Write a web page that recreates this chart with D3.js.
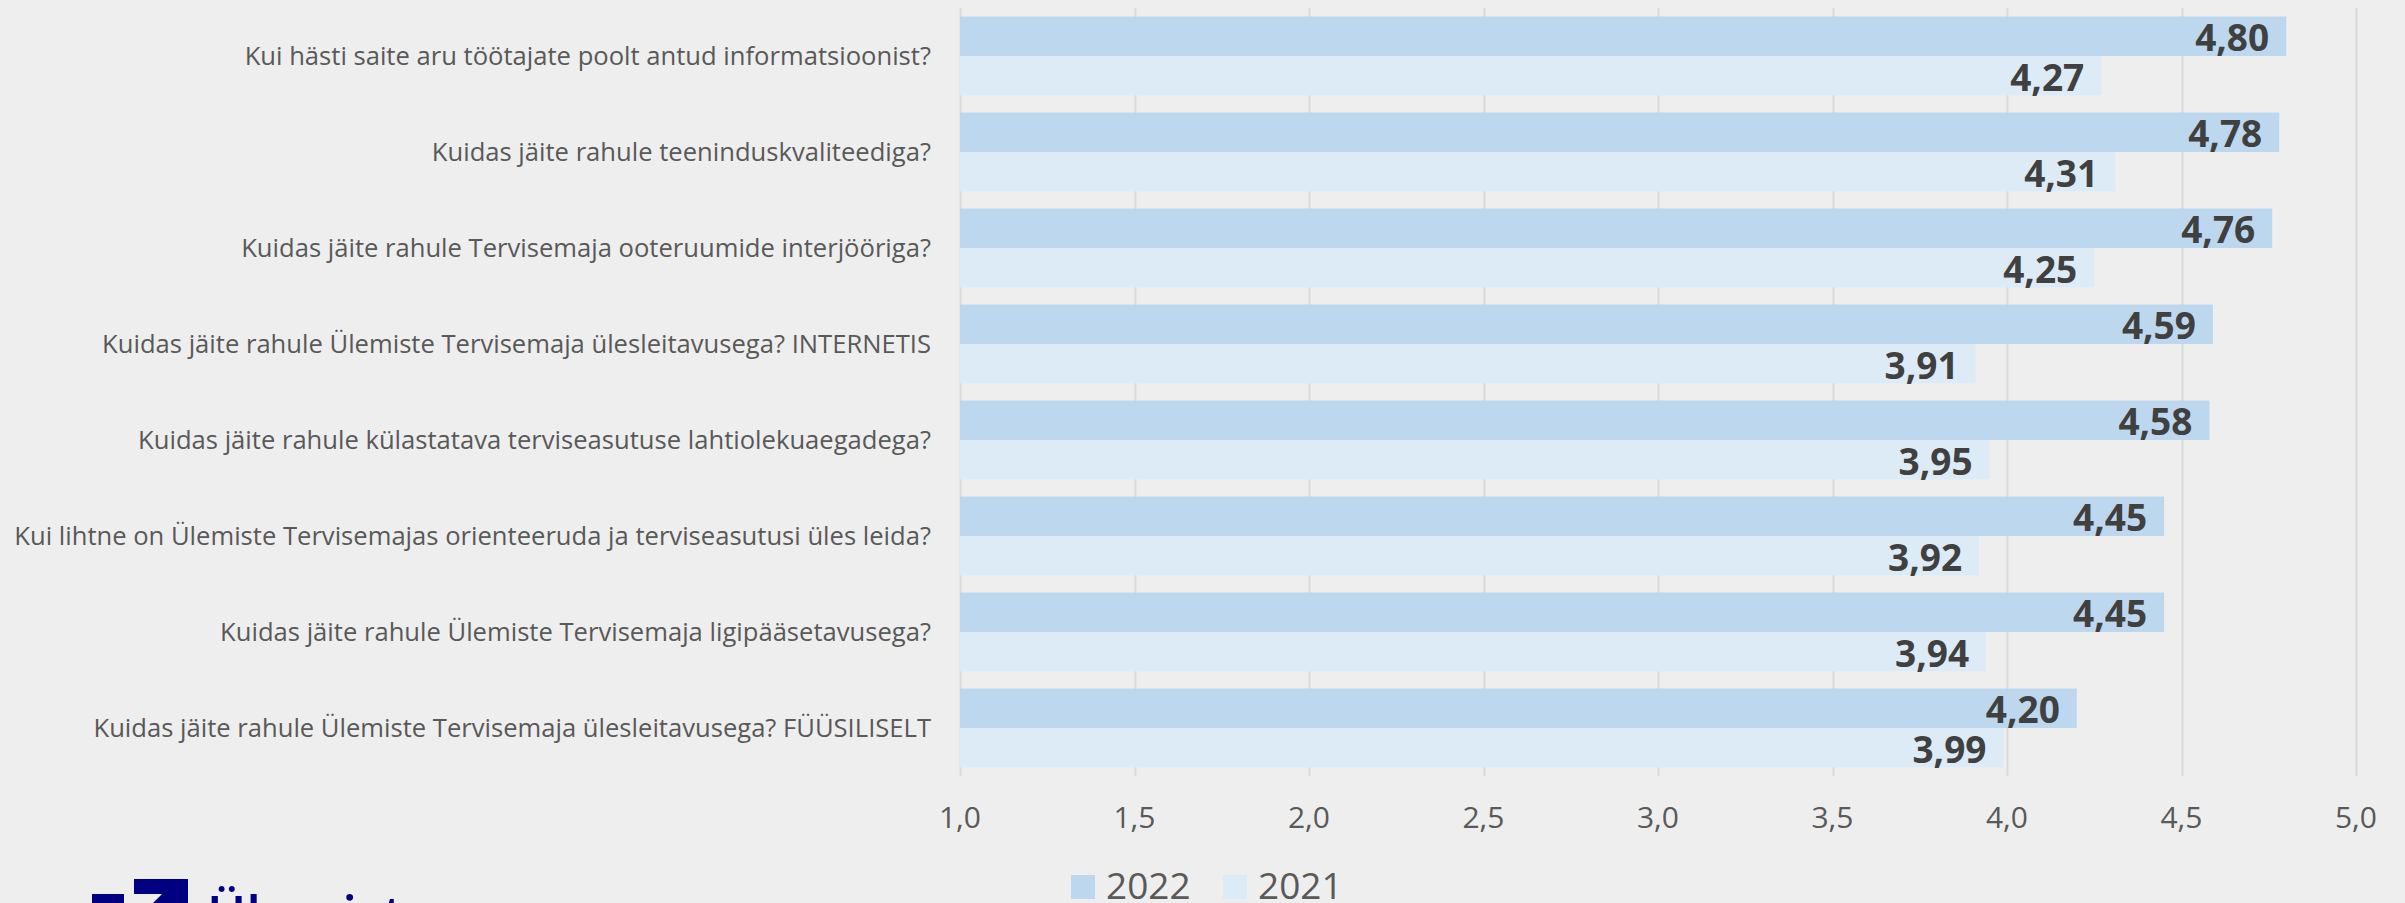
<!DOCTYPE html>
<html>
<head>
<meta charset="utf-8">
<script src="https://cdn.jsdelivr.net/npm/d3@7"></script>
<style>
  body { margin: 0; background: #eeeeee; }
  svg { display: block; font-family: "Open Sans", sans-serif; }
</style>
</head>
<body>
<script>
var questions = [
  "Kui hästi saite aru töötajate poolt antud informatsioonist?",
  "Kuidas jäite rahule teeninduskvaliteediga?",
  "Kuidas jäite rahule Tervisemaja ooteruumide interjööriga?",
  "Kuidas jäite rahule Ülemiste Tervisemaja ülesleitavusega? INTERNETIS",
  "Kuidas jäite rahule külastatava terviseasutuse lahtiolekuaegadega?",
  "Kui lihtne on Ülemiste Tervisemajas orienteeruda ja terviseasutusi üles leida?",
  "Kuidas jäite rahule Ülemiste Tervisemaja ligipääsetavusega?",
  "Kuidas jäite rahule Ülemiste Tervisemaja ülesleitavusega? FÜÜSILISELT"
];
var values2022 = [4.80, 4.78, 4.76, 4.59, 4.58, 4.45, 4.45, 4.20];
var values2021 = [4.27, 4.31, 4.25, 3.91, 3.95, 3.92, 3.94, 3.99];
var seriesNames = ["2022", "2021"];
var xTicks = [1.0, 1.5, 2.0, 2.5, 3.0, 3.5, 4.0, 4.5, 5.0];

var colors = { "2022": "#bdd7ee", "2021": "#ddebf7" };

var width = 2405, height = 903;
var plot = { left: 960, right: 2356, top: 8, bottom: 776 };

var svg = d3.select("body").append("svg")
    .attr("width", width)
    .attr("height", height);

var x = d3.scaleLinear().domain([1, 5]).range([plot.left, plot.right]);
var y = d3.scaleBand().domain(questions).range([plot.top, plot.bottom])
    .paddingInner(0.177).paddingOuter(0.0885);
var ySub = d3.scaleBand().domain(seriesNames).range([0, y.bandwidth()]);

var fmt = function (v) { return d3.format(".2f")(v).replace(".", ","); };
var fmtTick = function (v) { return d3.format(".1f")(v).replace(".", ","); };

// grid lines
svg.append("g")
  .selectAll("line")
  .data(xTicks).enter().append("line")
    .attr("x1", function (d) { return Math.round(x(d)) + 0.5; })
    .attr("x2", function (d) { return Math.round(x(d)) + 0.5; })
    .attr("y1", plot.top)
    .attr("y2", plot.bottom)
    .style("stroke", "#d9d9d9")
    .style("stroke-width", 2);

// tick labels
svg.append("g")
  .selectAll("text")
  .data(xTicks).enter().append("text")
    .attr("x", function (d) { return x(d); })
    .attr("y", 828)
    .attr("text-anchor", "middle")
    .style("font-size", "30px")
    .style("fill", "#595959")
    .text(fmtTick);

// category labels
svg.append("g")
  .selectAll("text")
  .data(questions).enter().append("text")
    .attr("x", 931)
    .attr("y", function (d) { return y(d) + y.bandwidth() / 2 + 9; })
    .attr("text-anchor", "end")
    .style("font-size", "25.6px")
    .style("fill", "#595959")
    .text(function (d) { return d; });

var rows = [];
questions.forEach(function (q, i) {
  rows.push({ q: q, s: "2022", v: values2022[i] });
  rows.push({ q: q, s: "2021", v: values2021[i] });
});

// bars
svg.append("g")
  .selectAll("rect")
  .data(rows).enter().append("rect")
    .attr("x", x(1))
    .attr("y", function (d) { return y(d.q) + ySub(d.s); })
    .attr("width", function (d) { return x(d.v) - x(1); })
    .attr("height", ySub.bandwidth())
    .style("fill", function (d) { return colors[d.s]; });

// value labels
svg.append("g")
  .selectAll("text")
  .data(rows).enter().append("text")
    .attr("x", function (d) { return x(d.v) - 17; })
    .attr("y", function (d) { return y(d.q) + ySub(d.s) + ySub.bandwidth() / 2 + 15; })
    .attr("text-anchor", "end")
    .style("font-size", "37px")
    .style("font-weight", "bold")
    .style("fill", "#404040")
    .text(function (d) { return fmt(d.v); });

// legend
var legendX = [1071, 1223];
var legend = svg.append("g")
  .selectAll("g")
  .data(seriesNames).enter().append("g")
    .attr("transform", function (d, i) { return "translate(" + legendX[i] + ",875)"; });
legend.append("rect")
    .attr("width", 24).attr("height", 24)
    .style("fill", function (d) { return colors[d]; });
legend.append("text")
    .attr("x", 35).attr("y", 24)
    .style("font-size", "37px")
    .style("fill", "#595959")
    .text(function (d) { return d; });

// logo (cut off at the bottom edge)
var logo = svg.append("g").style("fill", "#000080");
logo.append("rect").attr("x", 92).attr("y", 894).attr("width", 32).attr("height", 20);
logo.append("path").attr("d", "M134,879 H188 V912 H144 L162,894 H134 Z");
logo.append("text")
    .attr("x", 207).attr("y", 934)
    .style("font-size", "53px")
    .style("font-weight", 600)
    .text("Ülemiste");
</script>
</body>
</html>
